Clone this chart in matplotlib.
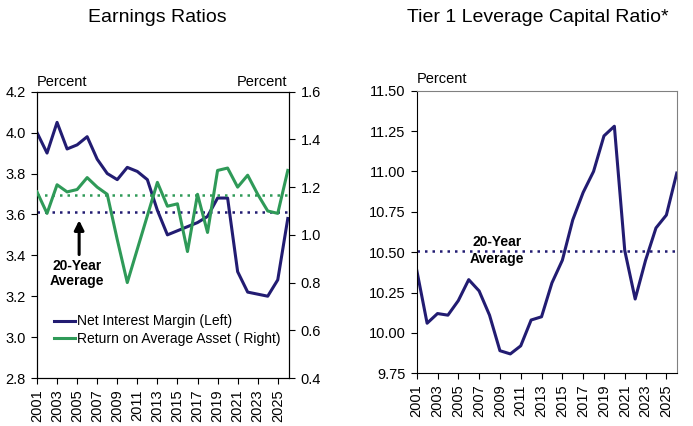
import matplotlib
matplotlib.use("Agg")
import matplotlib.pyplot as plt
import numpy as np

plt.rcParams['font.family'] = ['Liberation Sans', 'DejaVu Sans']

years = list(range(2001, 2027))
nim = [4.00, 3.90, 4.05, 3.92, 3.94, 3.98, 3.87, 3.80, 3.77, 3.83, 3.81, 3.77,
       3.62, 3.50, 3.52, 3.54, 3.56, 3.59, 3.68, 3.68, 3.32, 3.22, 3.21, 3.20,
       3.28, 3.58]
roa = [1.18, 1.09, 1.21, 1.18, 1.19, 1.24, 1.20, 1.17, 0.98, 0.80, 0.94, 1.08,
       1.22, 1.12, 1.13, 0.93, 1.17, 1.01, 1.27, 1.28, 1.20, 1.25, 1.17, 1.10,
       1.09, 1.27]
tier1 = [10.39, 10.06, 10.12, 10.11, 10.20, 10.33, 10.26, 10.11, 9.89, 9.87,
         9.92, 10.08, 10.10, 10.31, 10.45, 10.70, 10.87, 11.00, 11.22, 11.28,
         10.51, 10.21, 10.45, 10.65, 10.73, 10.99]
nim_avg = 3.61
roa_avg = 1.166
tier1_avg = 10.51
xtick_years = list(range(2001, 2026, 2))

navy = '#221c72'
green = '#2f9a58'

fig = plt.figure(figsize=(6.93, 4.26), dpi=100)

# ---- left panel: earnings ratios
ax = fig.add_axes([37/693, 1-378/426, (289.3-37)/693, (378-91.7)/426])
ax2 = ax.twinx()
l1, = ax.plot(years, nim, color=navy, lw=2.2, zorder=3)
ax.axhline(nim_avg, color=navy, lw=1.8, ls=(0, (1, 2)))
l2, = ax2.plot(years, roa, color=green, lw=2.2, zorder=3)
ax2.axhline(roa_avg, color=green, lw=1.8, ls=(0, (1, 2)))

ax.set_xlim(2001, 2026.15)
ax.set_ylim(2.8, 4.2)
ax.set_yticks(np.arange(2.8, 4.21, 0.2))
ax.set_yticklabels([f"{v:.1f}" for v in np.arange(2.8, 4.21, 0.2)])
ax2.set_ylim(0.4, 1.6)
ax2.set_yticks(np.arange(0.4, 1.61, 0.2))
ax2.set_yticklabels([f"{v:.1f}" for v in np.arange(0.4, 1.61, 0.2)])
ax.set_xticks(xtick_years)
ax.set_xticklabels([str(y) for y in xtick_years], rotation=90)
for a in (ax, ax2):
    a.tick_params(direction='out', length=4.5, width=0.8, labelsize=10.5)
ax.text(0, 1.01, 'Percent', transform=ax.transAxes, ha='left', va='bottom', fontsize=10.5)
ax.text(0.99, 1.01, 'Percent', transform=ax.transAxes, ha='right', va='bottom', fontsize=10.5)

ax.annotate('', xy=(2005.2, 3.585), xytext=(2005.2, 3.39),
            arrowprops=dict(arrowstyle='-|>', color='black', lw=2.2, mutation_scale=14))
ax.text(2004.95, 3.31, '20-Year\nAverage', ha='center', va='center',
        fontsize=10, fontweight='bold', linespacing=1.1)

ax.legend([l1, l2], ['Net Interest Margin (Left)', 'Return on Average Asset ( Right)'],
          loc='upper left', bbox_to_anchor=(0.067, 0.222), frameon=False,
          fontsize=10, handlelength=1.5, handletextpad=0.15, labelspacing=0.25,
          borderpad=0, borderaxespad=0)

fig.text(157/693, 1-18/426, 'Earnings Ratios', ha='center', va='center', fontsize=14)

# ---- right panel: tier 1 leverage
bx = fig.add_axes([416.7/693, 1-373.3/426, (677.3-416.7)/693, (373.3-90.7)/426])
bx.plot(years, tier1, color=navy, lw=2.2)
bx.axhline(tier1_avg, color=navy, lw=1.8, ls=(0, (1, 2)))
bx.set_xlim(2001, 2026.05)
bx.set_ylim(9.75, 11.5)
yt = np.arange(9.75, 11.51, 0.25)
bx.set_yticks(yt)
bx.set_yticklabels([f"{v:.2f}" for v in yt])
bx.set_xticks(xtick_years)
bx.set_xticklabels([str(y) for y in xtick_years], rotation=90)
bx.tick_params(direction='out', length=4.5, width=0.8, labelsize=10.5)
for s in ('top', 'right'):
    bx.spines[s].set_color('#808080')
bx.text(0, 1.015, 'Percent', transform=bx.transAxes, ha='left', va='bottom', fontsize=10.5)
bx.text(2008.7, tier1_avg, '20-Year\nAverage', ha='center', va='center',
        fontsize=10, fontweight='bold', linespacing=1.3)

fig.text(537.5/693, 1-18/426, 'Tier 1 Leverage Capital Ratio*', ha='center', va='center', fontsize=14)

fig.savefig('out.png', dpi=100)
